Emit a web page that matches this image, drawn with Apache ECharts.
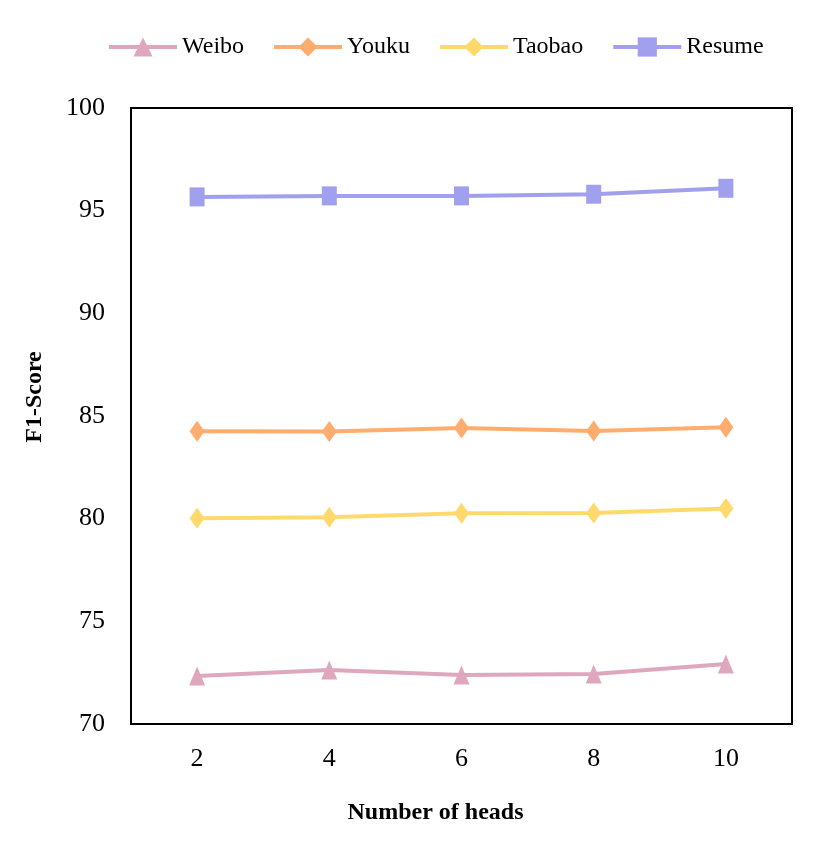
<!DOCTYPE html>
<html>
<head>
<meta charset="utf-8">
<script src="https://cdn.jsdelivr.net/npm/echarts@6/dist/echarts.min.js"></script>
<style>
    html, body { margin: 0; padding: 0; background: #fff; }
    #main { width: 830px; height: 841px; }
</style>
</head>
<body>
<div id="main"></div>
<script>
var heads = ["2", "4", "6", "8", "10"];
var weibo = [72.34, 72.63, 72.39, 72.44, 72.92];
var youku = [84.26, 84.24, 84.42, 84.27, 84.45];
var taobao = [80.02, 80.07, 80.26, 80.28, 80.50];
var resume = [95.67, 95.72, 95.72, 95.80, 96.09];

var serif = "'Liberation Serif', 'Times New Roman', serif";

function line(name, data, color, symbol, size) {
    return {
        name: name,
        type: "line",
        data: data,
        symbol: symbol,
        symbolSize: size,
        lineStyle: {color: color, width: 4},
        itemStyle: {color: color},
        emphasis: {disabled: true}
    };
}

var chart = echarts.init(document.getElementById("main"));
chart.setOption({
    animation: false,
    textStyle: {fontFamily: serif},
    legend: {
        top: 30,
        left: 102,
        itemWidth: 68,
        itemHeight: 24,
        itemGap: 28,
        lineStyle: {width: 4},
        textStyle: {fontFamily: serif, fontSize: 24, color: "#000"},
        data: ["Weibo", "Youku", "Taobao", "Resume"]
    },
    grid: {
        left: 131, right: 38, top: 108, bottom: 117,
        show: true,
        borderColor: "#000",
        borderWidth: 2,
        backgroundColor: "transparent"
    },
    xAxis: {
        type: "category",
        data: heads,
        boundaryGap: true,
        name: "Number of heads",
        nameLocation: "middle",
        nameGap: 77,
        nameTextStyle: {fontFamily: serif, fontSize: 24, fontWeight: "bold", color: "#000", padding: [0, 52, 0, 0]},
        axisLine: {lineStyle: {color: "#000", width: 2}},
        axisTick: {show: false},
        axisLabel: {fontFamily: serif, fontSize: 26, color: "#000", margin: 22}
    },
    yAxis: {
        type: "value",
        min: 70, max: 100, interval: 5,
        name: "F1-Score",
        nameLocation: "middle",
        nameGap: 84,
        nameTextStyle: {fontFamily: serif, fontSize: 24, fontWeight: "bold", color: "#000", padding: [0, 0, 0, 38]},
        axisLine: {show: true, lineStyle: {color: "#000", width: 2}},
        axisTick: {show: false},
        splitLine: {show: false},
        axisLabel: {fontFamily: serif, fontSize: 26, color: "#000", margin: 26}
    },
    series: [
        line("Weibo", weibo, "#DEA7BE", "triangle", [16, 19]),
        line("Youku", youku, "#FFAD6F", "diamond", [15, 21]),
        line("Taobao", taobao, "#FFD96B", "diamond", [15, 21]),
        line("Resume", resume, "#A0A0EE", "rect", [15, 19])
    ]
});
</script>
</body>
</html>
